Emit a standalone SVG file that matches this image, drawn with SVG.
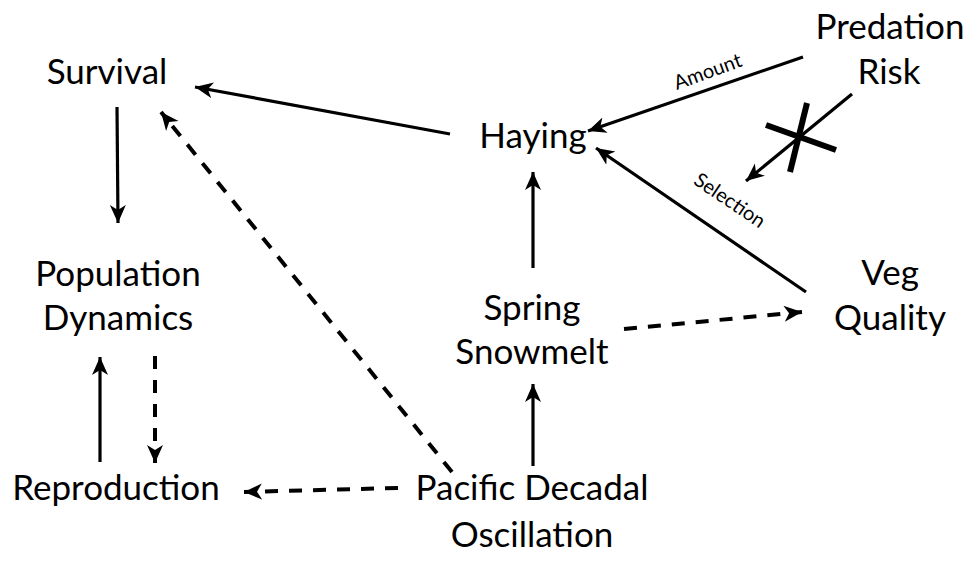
<svg xmlns="http://www.w3.org/2000/svg" width="972" height="572" viewBox="0 0 972 572">
  <style>
    .node text { font-family: "Lato", "Liberation Sans", sans-serif; font-size: 35px; fill: #000; text-anchor: middle; }
    .lbl { font-family: "Lato", "Liberation Sans", sans-serif; font-size: 20px; fill: #000; text-anchor: middle; }
    .edge { fill: none; stroke: #000; stroke-width: 3.2; }
    .dash { stroke-dasharray: 13 11; stroke-width: 4; }
    .solid { marker-end: url(#head); }
    .dashed { marker-end: url(#head); }
  </style>
  <defs>
    <marker id="head" markerUnits="userSpaceOnUse" markerWidth="22" markerHeight="18" refX="18" refY="8" orient="auto">
      <path d="M0,0 L18,8 L0,16 L5,8 z" fill="#000"/>
    </marker>
  </defs>
  <rect width="972" height="572" fill="#fff"/>

  <!-- connectors -->
  <g id="connectors">
    <!-- Haying to Survival -->
    <line class="edge solid" x1="450" y1="134" x2="195" y2="87"/>
    <!-- Survival to Population Dynamics -->
    <line class="edge solid" x1="117" y1="107" x2="118" y2="223"/>
    <!-- PDO to Survival -->
    <line class="edge dash dashed" x1="452" y1="472" x2="161" y2="112"/>
    <!-- Reproduction to Population Dynamics -->
    <line class="edge solid" x1="100" y1="462" x2="100" y2="357"/>
    <!-- Population Dynamics to Reproduction -->
    <line class="edge dash dashed" x1="155" y1="356" x2="155" y2="463"/>
    <!-- PDO to Reproduction -->
    <line class="edge dash dashed" x1="398" y1="488" x2="244" y2="492"/>
    <!-- PDO to Spring Snowmelt -->
    <line class="edge solid" x1="533" y1="466" x2="533" y2="384"/>
    <!-- Spring Snowmelt to Haying -->
    <line class="edge solid" x1="533" y1="268" x2="533" y2="172"/>
    <!-- Spring Snowmelt to Veg Quality -->
    <line class="edge dash dashed" x1="624" y1="329" x2="802" y2="312"/>
    <!-- Veg Quality to Haying (selection) -->
    <line class="edge solid" x1="806" y1="292" x2="596" y2="148"/>
    <!-- Predation Risk to Haying (amount) -->
    <line class="edge solid" x1="803" y1="57" x2="588" y2="131"/>
    <!-- Predation Risk to selection, blocked -->
    <line class="edge solid" x1="852" y1="94" x2="746" y2="181"/>
    <!-- cross mark -->
    <path d="M766,125 L836,150" stroke="#000" stroke-width="6" fill="none"/>
    <path d="M807,103 L790,172" stroke="#000" stroke-width="6" fill="none"/>
    <!-- edge labels -->
    <text class="lbl" transform="translate(710,78) rotate(-20)">Amount</text>
    <text class="lbl" transform="translate(726,206) rotate(34)">Selection</text>
  </g>

  <!-- nodes -->
  <g id="survival" class="node"><text x="107" y="84">Survival</text></g>
  <g id="haying" class="node"><text x="533" y="148">Haying</text></g>
  <g id="predation-risk" class="node"><text x="890" y="39">Predation</text><text x="889" y="84">Risk</text></g>
  <g id="population-dynamics" class="node"><text x="118" y="286">Population</text><text x="118" y="330">Dynamics</text></g>
  <g id="spring-snowmelt" class="node"><text x="532" y="320">Spring</text><text x="532" y="364">Snowmelt</text></g>
  <g id="veg-quality" class="node"><text x="890" y="285">Veg</text><text x="890" y="330">Quality</text></g>
  <g id="reproduction" class="node"><text x="116" y="500">Reproduction</text></g>
  <g id="pdo" class="node"><text x="532" y="500">Pacific Decadal</text><text x="532" y="547">Oscillation</text></g>
</svg>
